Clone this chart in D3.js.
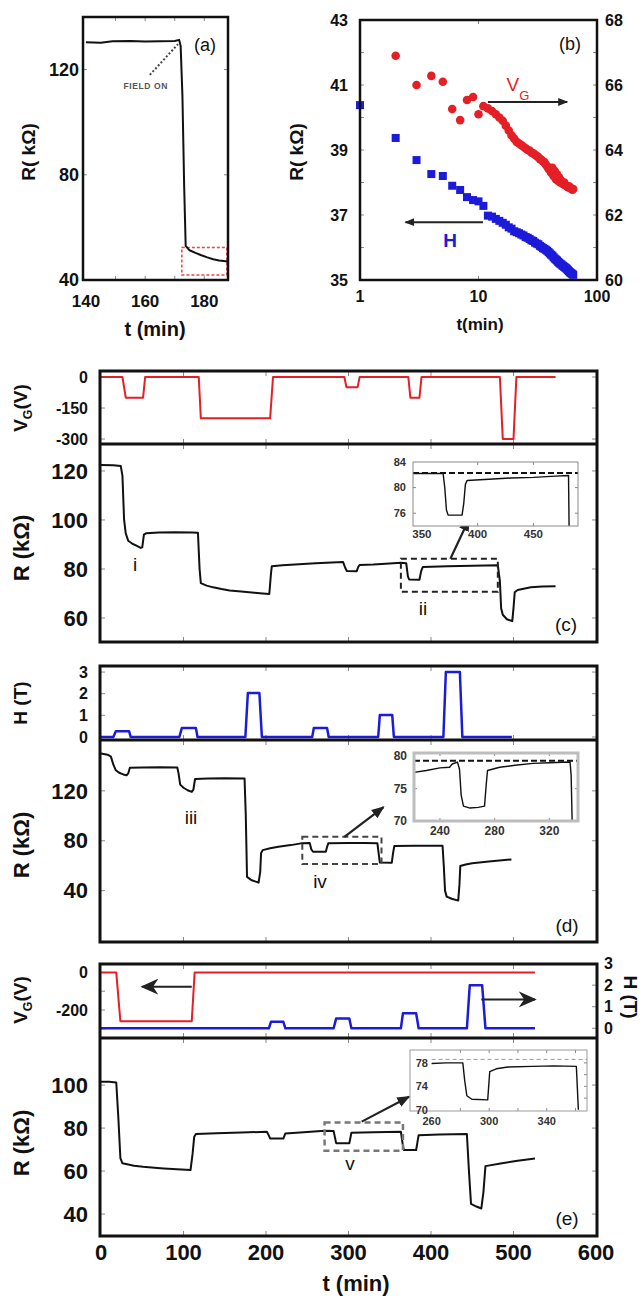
<!DOCTYPE html>
<html lang="en">
<head>
<meta charset="utf-8">
<title>R(t) under gate voltage and field</title>
<style type="text/css">
  body { margin: 0; background: #fff; }
  text { font-family: "Liberation Sans", Arial, sans-serif; }
  .tick { stroke: #8a8a8a; stroke-width: 1; }
</style>
</head>
<body>
<div id="container"></div>
<script src="https://cdnjs.cloudflare.com/ajax/libs/d3/7.8.5/d3.min.js"></script>
<script>

var width = 643, height = 1298;
var RED = "#e41f26", BLUE = "#1b1bd8";

//------ data: panel (a) ------
var aTickX = [140, 160, 180];
var aTickY = [40, 80, 120];
var aTrace = [[140,130.4],[145,130.2],[149,130.8],[155,130.9],[160,130.7],[165,130.8],[170,130.9],
  [171.5,131.3],[172,129],[172.6,110],[173.2,75],[173.7,53],[175,51.3],[177,50.3],[179,49.4],
  [181,48.6],[183,47.9],[185,47.4],[188,47]];

//------ data: panel (b) ------
var bTickX = [1, 10, 100];
var bTickL = [35, 37, 39, 41, 43];
var bTickR = [60, 62, 64, 66, 68];
// H series (left axis), blue squares
var bH = [[1,40.38],[2,39.37],[3,38.69],[4,38.26],[5,38.2],[6,37.9],[7,37.77],[8,37.55],[9,37.46],[10,37.42],
  [11,37.28],[12,36.98],[13,36.95],[14,36.88],[15,36.82],[16,36.76],[17,36.7],[18,36.62],[19,36.58],[20,36.5],
  [21,36.47],[22,36.44],[23,36.4],[24,36.37],[25,36.32],[26,36.3],[27,36.26],[28,36.22],[29,36.2],[30,36.15],
  [31,36.12],[32,36.1],[33,36.05],[34,36.02],[35,35.98],[36,35.96],[37,35.93],[38,35.9],[39,35.86],[40,35.82],
  [41,35.78],[42,35.75],[43,35.7],[44,35.66],[45,35.63],[46,35.6],[47,35.56],[48,35.53],[49,35.5],[50,35.48],
  [51,35.45],[52,35.43],[53,35.4],[54,35.38],[55,35.36],[56,35.33],[57,35.3],[58,35.27],[59,35.24],[60,35.22],
  [61,35.2],[62,35.18],[63,35.16]];
// V_G series (right axis), red circles
var bVg = [[2,66.9],[3,66.0],[4,66.28],[5,66.1],[6,65.26],[7,64.92],[8,65.54],[9,65.63],[10,65.1],
  [11,65.35],[12,65.28],[13,65.2],[14,65.1],[15,65.0],[16,64.9],[17,64.75],[18,64.6],[19,64.45],[20,64.35],
  [21,64.25],[22,64.2],[23,64.15],[24,64.1],[25,64.05],[26,64.0],[27,63.98],[28,63.92],[29,63.9],[30,63.85],
  [31,63.82],[32,63.78],[33,63.72],[34,63.7],[35,63.65],[36,63.62],[37,63.55],[38,63.5],[39,63.42],[40,63.4],
  [41,63.3],[42,63.45],[43,63.2],[44,63.35],[45,63.1],[46,63.25],[47,63.05],[48,63.15],[49,63.0],[50,63.05],
  [51,62.98],[52,62.95],[53,63.0],[54,62.92],[55,62.9],[56,62.88],[57,62.85],[58,62.88],[59,62.85],[60,62.82],
  [61,62.8],[62,62.78],[63,62.8]];

//------ data: shared time axis of (c)-(e) ------
var tTicks = [0, 100, 200, 300, 400, 500, 600];
var tInner = [100, 200, 300, 400, 500];

//------ data: panel (c) ------
var cTickV = [0, -150, -300];
var cTickR = [60, 80, 100, 120];
var cVg = [[0,0],[26,0],[30,-100],[51,-100],[53.5,0],[118.5,0],[121,-200],[205,-200],[208.5,0],[295,0],
  [297.5,-50],[311,-50],[313.5,0],[372.5,0],[375,-100],[386,-100],[388.5,0],[483.5,0],[487,-300],[500,-300],
  [503.5,0],[551,0]];
var cR = [[0,122.4],[15,122.3],[24,122],[26,118],[28,100],[30,94.5],[33,91.5],[38,90.3],[43,89.5],[48,88.6],
  [50,88.8],[52,94],[55,94.6],[70,94.9],[90,95],[110,94.9],[117.5,94.8],[119.5,80],[121,74.2],[128,73.2],
  [136,72.5],[146,71.8],[156,71.2],[170,70.8],[186,70.3],[196,70],[204,69.8],[206,78],[207,81.1],[220,81.5],
  [240,81.9],[260,82.3],[280,82.6],[293.5,82.8],[296,80.5],[298,79.2],[310,79.1],[312,81],[313.5,81.6],
  [330,81.8],[345,82.1],[363.5,82.5],[370,82.3],[372,77],[373.5,75.7],[386,75.6],[388,79],[390,80.8],
  [420,81.1],[450,81.3],[481,81.5],[483.5,75],[485,64],[487,61.3],[492,59.5],[498.5,58.7],[500,64],
  [501.5,70.5],[505,71.4],[521,72.5],[535,72.8],[551,73]];
var cInsetTickX = [350, 400, 450];
var cInsetTickY = [76, 80, 84];
var cInset = [[342,82.2],[360,82.2],[369,82.2],[370.5,80],[372,76.5],[373.5,75.7],[386,75.7],[387.5,77.5],
  [389,80.5],[390.5,81.1],[410,81.3],[430,81.5],[450,81.6],[470,81.8],[481.5,81.9],[482,74]];
var cInsetRef = 82.3;

//------ data: panel (d) ------
var dTickH = [0, 1, 2, 3];
var dTickR = [40, 80, 120];
var dH = [[0,0],[15,0],[18,0.27],[34,0.27],[36,0],[95,0],[98,0.42],[115,0.42],[117,0],[175,0],[178,2.03],
  [192,2.03],[195,0],[256,0],[258,0.42],[274,0.42],[276,0],[336,0],[338,1.02],[353,1.02],[355,0],[415,0],
  [418,3.0],[435,3.0],[438,0],[498,0]];
var dR = [[0,150],[8,149],[12,147.5],[15,141],[18,136.5],[22,134.5],[27,133.2],[31,132.5],[33,134],[35,138.5],
  [50,138.8],[70,139],[92.5,138.7],[94,134],[96,125],[100,122.5],[105,120.5],[110,119.2],[112,121],[114,129.5],
  [130,130],[150,130.2],[174,130],[175.5,100],[177,51],[182,48.5],[191,46.4],[193,55],[194,70],[196,72.5],
  [205,74],[215,75.2],[230,76.5],[242.5,77.9],[253,78.2],[255,73],[257,71.2],[272.5,71.2],[274,75],
  [275.5,77.9],[300,78.1],[320,78.2],[335,78],[336.5,70],[338,62.5],[352.5,62.4],[354,70],[355.5,75.7],
  [380,76],[414,76],[415.5,60],[417,40],[419,35.2],[425,33.5],[433,32],[434.5,45],[435.5,59.7],[442,61],
  [450,61.9],[470,63.3],[497.5,65]];
var dInsetTickX = [240, 280, 320];
var dInsetTickY = [70, 75, 80];
var dInset = [[221,77.5],[230,77.8],[240,78.2],[247,78.3],[249,78.8],[252.8,79.1],[254.3,78],[255.5,74],
  [257.2,72.3],[262,72.0],[268,72.1],[272.6,72.3],[274,76],[274.8,77.8],[283.7,78.3],[295,78.6],[308,78.9],
  [320,79.0],[335.2,79.1],[336,77],[336.7,70]];
var dInsetRef = 79.3;

//------ data: panel (e) ------
var eTickV = [0, -200];
var eTickH = [0, 1, 2, 3];
var eTickR = [40, 60, 80, 100];
var eVg = [[0,0],[18.5,0],[23.5,-260],[110,-260],[113.5,0],[526,0]];
var eH = [[0,0],[203.5,0],[206,0.3],[221,0.3],[223.5,0],[282,0],[285,0.45],[301,0.45],[303.5,0],[363.5,0],
  [366,0.7],[382,0.7],[385,0],[443.5,0],[447,2.0],[462,2.0],[466,0],[526,0]];
var eR = [[0,101.5],[10,101.5],[18.5,101.2],[21,85],[23.5,66],[26,63.6],[40,62.5],[51,62],[65,61.5],[76,61.2],
  [92,60.8],[108.5,60.5],[111,68],[113,76],[115,77.2],[140,77.6],[170,77.9],[201,78.3],[203.5,76.5],[205,75.2],
  [221,75.1],[223.5,77.5],[250,78.2],[271,78.8],[282,78.6],[285,73],[301,72.9],[303.5,77.8],[330,78.1],
  [363.5,78.3],[365.5,73],[367,69.8],[382,69.8],[385,76.7],[410,77],[443.5,77.2],[446,60],[448.5,44.7],
  [455,43.5],[461,42.6],[463.5,50],[466,62.3],[486,63.6],[505,64.8],[526,65.9]];
var eInsetTickX = [260, 300, 340];
var eInsetTickY = [70, 74, 78];
var eInset = [[260,77.9],[270,78.0],[281.7,78.0],[283,75],[284.5,72.4],[288,71.8],[299,71.7],[300.4,76.5],
  [305,77.0],[313,77.3],[330,77.4],[345,77.5],[360.6,77.4],[362,70]];
var eInsetRef = 78.6;
//-----------------------------


var svg = d3.select("#container").append("svg")
    .attr("width", width)
    .attr("height", height);

var defs = svg.append("defs");
function arrowMarker(id, size, notched) {
  defs.append("marker").attr("id", id)
    .attr("viewBox", "0 0 10 10").attr("refX", 9).attr("refY", 5)
    .attr("markerUnits", "userSpaceOnUse")
    .attr("markerWidth", size).attr("markerHeight", size)
    .attr("orient", "auto")
    .append("path")
    .attr("d", notched ? "M0,0.5L10,5L0,9.5L3,5Z" : "M0,1L10,5L0,9Z")
    .attr("fill", "#222");
}
arrowMarker("arS", 10, false);
arrowMarker("arM", 13, false);
arrowMarker("arL", 18, true);

function box(x0, y0, x1, y1, w, col) {
  svg.append("rect").attr("x", x0).attr("y", y0)
    .attr("width", x1 - x0).attr("height", y1 - y0)
    .attr("fill", "none").attr("stroke", col || "#111").attr("stroke-width", w);
}
function hline(x0, x1, y, w) {
  svg.append("line").attr("x1", x0).attr("x2", x1).attr("y1", y).attr("y2", y)
    .attr("stroke", "#111").attr("stroke-width", w);
}
// inward ticks on left and/or right edges
function yTicks(scale, vals, x0, x1, len) {
  vals.forEach(function(v) {
    var y = scale(v);
    if (x0 != null) svg.append("line").attr("class", "tick").attr("x1", x0).attr("x2", x0 + len).attr("y1", y).attr("y2", y);
    if (x1 != null) svg.append("line").attr("class", "tick").attr("x1", x1 - len).attr("x2", x1).attr("y1", y).attr("y2", y);
  });
}
// inward ticks on top and/or bottom edges
function xTicks(scale, vals, y0, y1, len) {
  vals.forEach(function(v) {
    var x = scale(v);
    if (y0 != null) svg.append("line").attr("class", "tick").attr("x1", x).attr("x2", x).attr("y1", y0).attr("y2", y0 + len);
    if (y1 != null) svg.append("line").attr("class", "tick").attr("x1", x).attr("x2", x).attr("y1", y1 - len).attr("y2", y1);
  });
}
function label(x, y, str, size, opts) {
  opts = opts || {};
  return svg.append("text").attr("x", x).attr("y", y)
    .attr("text-anchor", opts.anchor || "middle")
    .attr("dy", "0.35em")
    .attr("font-size", size)
    .attr("font-weight", opts.weight || "bold")
    .attr("font-family", opts.family || null)
    .attr("fill", opts.fill || "#111")
    .text(str);
}
function yLabels(scale, vals, x, size, anchor, fill) {
  vals.forEach(function(v) {
    label(x, scale(v), v, size, {anchor: anchor || "end", fill: fill});
  });
}
function xLabels(scale, vals, y, size, fill) {
  vals.forEach(function(v) { label(scale(v), y, v, size, {fill: fill}); });
}
// rotated axis title; parts = [[text, isSub, backUp], ...]
function vTitle(x, y, parts, size, rot) {
  var t = svg.append("text")
    .attr("transform", "translate(" + x + "," + y + ") rotate(" + (rot || -90) + ")")
    .attr("text-anchor", "middle").attr("dy", "0.35em")
    .attr("font-size", size).attr("font-weight", "bold").attr("fill", "#111");
  parts.forEach(function(p) {
    var s = t.append("tspan").text(p[0]);
    if (p[1]) s.attr("font-size", size * 0.65).attr("dy", size * 0.3);
    else if (p[2]) s.attr("dy", -size * 0.3);
  });
}
function trace(x, y, data, col, w) {
  var line = d3.line().x(function(d) { return x(d[0]); }).y(function(d) { return y(d[1]); });
  svg.append("path").datum(data).attr("d", line)
    .attr("fill", "none").attr("stroke", col).attr("stroke-width", w)
    .attr("stroke-linejoin", "round");
}
function arrow(x1, y1, x2, y2, marker, w) {
  svg.append("line").attr("x1", x1).attr("y1", y1).attr("x2", x2).attr("y2", y2)
    .attr("stroke", "#222").attr("stroke-width", w || 2)
    .attr("marker-end", "url(#" + marker + ")");
}
function dashBox(x, y, t0, t1, r0, r1, col, w, dash) {
  svg.append("rect")
    .attr("x", x(t0)).attr("y", y(r1))
    .attr("width", x(t1) - x(t0)).attr("height", y(r0) - y(r1))
    .attr("fill", "none").attr("stroke", col).attr("stroke-width", w)
    .attr("stroke-dasharray", dash || "6,4");
}
var roman = {family: "'Liberation Mono', monospace", weight: "normal"};

//==================== (a) ====================
var ax = d3.scaleLinear().domain([139, 188]).range([83, 228]);
var ay = d3.scaleLinear().domain([40, 140]).range([280, 17]);
xTicks(ax, [150, 160, 170, 180], 17, 280, 4);
yTicks(ay, [80, 120], 83, 228, 4);
dashBox(ax, ay, 172.4, 187.6, 41.9, 52.4, "#e8454a", 1.5, "3,2");
trace(ax, ay, aTrace, "#111", 2);
box(83, 17, 228, 280, 2.5);
yLabels(ay, aTickY, 79, 18);
xLabels(ax, aTickX, 301, 17);
label(155, 329, "t (min)", 20);
vTitle(28, 152, [["R( kΩ)"]], 19);
label(205, 45, "(a)", 18, {weight: "normal"});
// FIELD ON annotation
svg.append("line")
  .attr("x1", ax(161.6)).attr("y1", ay(118)).attr("x2", ax(171.1)).attr("y2", ay(129.7))
  .attr("stroke", "#444").attr("stroke-width", 2).attr("stroke-dasharray", "2,2");
label(ax(160.2), ay(113.7), "FIELD ON", 8.5, {fill: "#555"}).attr("letter-spacing", 0.6);

//==================== (b) ====================
var bx = d3.scaleLog().domain([1, 100]).range([360, 597]);
var byL = d3.scaleLinear().domain([35, 43]).range([280, 20]);
var byR = d3.scaleLinear().domain([60, 68]).range([280, 20]);
yTicks(byL, [36, 37, 38, 39, 40, 41, 42], 360, 597, 4);
xTicks(bx, [10], 20, 280, 4);
svg.append("g").selectAll("rect").data(bH).enter().append("rect")
  .attr("x", function(d) { return bx(d[0]) - 4; })
  .attr("y", function(d) { return byL(d[1]) - 4; })
  .attr("width", 8).attr("height", 8).attr("fill", BLUE);
svg.append("g").selectAll("circle").data(bVg).enter().append("circle")
  .attr("cx", function(d) { return bx(d[0]); })
  .attr("cy", function(d) { return byR(d[1]); })
  .attr("r", 4.3).attr("fill", RED);
box(360, 20, 597, 280, 2.5);
yLabels(byL, bTickL, 348, 16);
yLabels(byR, bTickR, 605, 16, "start");
xLabels(bx, bTickX, 296, 16);
label(480, 324, "t(min)", 17);
vTitle(296, 152, [["R( kΩ)"]], 19);
label(570, 44, "(b)", 18, {weight: "normal"});
arrow(bx(12), byL(40.48), bx(56), byL(40.48), "arS", 2);
arrow(bx(10.9), byL(36.78), bx(2.42), byL(36.78), "arS", 2);
var vgb = label(518, 84, "", 19, {fill: RED, weight: "normal"});
vgb.append("tspan").text("V");
vgb.append("tspan").text("G").attr("font-size", 13).attr("dy", 9);
label(450, 240, "H", 19, {fill: BLUE});

//==================== shared x ====================
var tx = d3.scaleLinear().domain([0, 600]).range([101, 596]);

//==================== (c) ====================
var cyV = d3.scaleLinear().domain([-324, 29]).range([444, 371]);
var cyR = d3.scaleLinear().domain([50.2, 131]).range([642, 444]);
yTicks(cyV, cTickV, 100, 597, 5);
yTicks(cyR, cTickR, 100, 597, 5);
xTicks(tx, tInner, 371, 444, 5);
xTicks(tx, tInner, 444, 642, 5);
trace(tx, cyV, cVg, RED, 2);
trace(tx, cyR, cR, "#111", 2);
dashBox(tx, cyR, 363.5, 481, 70.7, 84.2, "#222", 2);
arrow(tx(423.5), cyR(84.2), tx(446), cyR(100.3), "arM", 2.2);
// inset (c)
var cix = d3.scaleLinear().domain([342, 490]).range([413, 578]);
var ciy = d3.scaleLinear().domain([74, 84]).range([526, 462]);
svg.append("rect").attr("x", 413).attr("y", 462).attr("width", 165).attr("height", 64).attr("fill", "#fff");
yTicks(ciy, [76, 80], 413, 578, 3);
xTicks(cix, [400, 450], 462, 526, 3);
svg.append("line").attr("x1", cix(342)).attr("x2", cix(490)).attr("y1", ciy(cInsetRef)).attr("y2", ciy(cInsetRef))
  .attr("stroke", "#111").attr("stroke-width", 2).attr("stroke-dasharray", "6,3");
trace(cix, ciy, cInset, "#111", 1.4);
box(413, 462, 578, 526, 1, "#8a8a8a");
yLabels(ciy, cInsetTickY, 406, 11, "end", "#333");
xLabels(cix, cInsetTickX, 534, 11.5, "#333");
box(100, 371, 597, 642, 3);
hline(100, 597, 444, 3);
yLabels(cyV, cTickV, 88, 16);
yLabels(cyR, cTickR, 88, 22);
vTitle(20, 408, [["V"], ["G", true], ["(V)", false, true]], 19);
vTitle(21, 548, [["R (kΩ)"]], 22);
label(135, 564, "i", 19, roman);
label(423, 608, "ii", 19, roman);
label(566, 624, "(c)", 19, {weight: "normal"});

//==================== (d) ====================
var dyH = d3.scaleLinear().domain([-0.14, 3.28]).range([740, 666]);
var dyR = d3.scaleLinear().domain([-1.2, 160.8]).range([942, 740]);
yTicks(dyH, dTickH, 100, 597, 5);
yTicks(dyR, dTickR, 100, 597, 5);
xTicks(tx, tInner, 666, 740, 5);
xTicks(tx, tInner, 740, 942, 5);
trace(tx, dyH, dH, BLUE, 2.5);
trace(tx, dyR, dR, "#111", 2);
dashBox(tx, dyR, 244, 340, 61.3, 83.2, "#444", 2);
arrow(tx(295), dyR(83.2), tx(342.5), dyR(107), "arM", 2.2);
// inset (d)
var dix = d3.scaleLinear().domain([221, 341]).range([414, 578]);
var diy = d3.scaleLinear().domain([70, 80.5]).range([821, 753]);
svg.append("rect").attr("x", 414).attr("y", 753).attr("width", 164).attr("height", 68).attr("fill", "#fff");
yTicks(diy, [75], 414, 578, 3);
xTicks(dix, [240, 280, 320], 753, 821, 3);
svg.append("line").attr("x1", dix(221)).attr("x2", dix(341)).attr("y1", diy(dInsetRef)).attr("y2", diy(dInsetRef))
  .attr("stroke", "#111").attr("stroke-width", 2).attr("stroke-dasharray", "6,3");
trace(dix, diy, dInset, "#111", 1.4);
box(414, 753, 578, 821, 3, "#bdbdbd");
yLabels(diy, dInsetTickY, 407, 12, "end", "#333");
xLabels(dix, dInsetTickX, 831, 12, "#333");
box(100, 666, 597, 942, 3);
hline(100, 597, 740, 3);
yLabels(dyH, dTickH, 88, 16);
yLabels(dyR, dTickR, 88, 22);
vTitle(20, 703, [["H (T)"]], 19);
vTitle(21, 845, [["R (kΩ)"]], 22);
label(191, 817, "iii", 19, roman);
label(320, 881, "iv", 19, roman);
label(567, 925, "(d)", 19, {weight: "normal"});

//==================== (e) ====================
var eyV = d3.scaleLinear().domain([-349, 45]).range([1038, 964]);
var eyH = d3.scaleLinear().domain([-0.45, 2.98]).range([1038, 964]);
var eyR = d3.scaleLinear().domain([29.8, 121.9]).range([1236, 1038]);
yTicks(eyV, [0, -100, -200, -300], 100, null, 5);
yTicks(eyH, eTickH, null, 597, 5);
yTicks(eyR, eTickR, 100, 597, 5);
xTicks(tx, tInner, 964, 1038, 5);
xTicks(tx, tInner, 1038, 1236, 5);
trace(tx, eyV, eVg, RED, 2);
trace(tx, eyH, eH, BLUE, 2.5);
trace(tx, eyR, eR, "#111", 2);
arrow(tx(110), eyV(-76), tx(50), eyV(-76), "arL", 2);
arrow(tx(461), eyH(1.34), tx(526), eyH(1.34), "arL", 2);
dashBox(tx, eyR, 271, 366, 69.5, 82.6, "#777", 2.5);
arrow(tx(316), eyR(83), tx(373.5), eyR(94.6), "arM", 2.2);
// inset (e)
var eix = d3.scaleLinear().domain([245, 368]).range([410, 587]);
var eiy = d3.scaleLinear().domain([69.8, 80.2]).range([1111, 1050]);
svg.append("rect").attr("x", 410).attr("y", 1050).attr("width", 177).attr("height", 61).attr("fill", "#fff");
yTicks(eiy, [72, 74, 76, 78], null, 587, 3);
xTicks(eix, [280, 300, 320, 340, 360], 1050, 1111, 3);
svg.append("line").attr("x1", eix(260)).attr("x2", eix(368)).attr("y1", eiy(eInsetRef)).attr("y2", eiy(eInsetRef))
  .attr("stroke", "#999").attr("stroke-width", 1).attr("stroke-dasharray", "4,3");
trace(eix, eiy, eInset, "#111", 1.4);
box(410, 1050, 587, 1111, 1, "#9a9a9a");
yLabels(eiy, eInsetTickY, 428, 11, "end", "#333");
xLabels(eix, eInsetTickX, 1121, 11, "#333");
box(100, 964, 597, 1236, 3);
hline(100, 597, 1038, 3);
yLabels(eyV, eTickV, 88, 16);
yLabels(eyH, eTickH, 604, 16, "start");
yLabels(eyR, eTickR, 88, 22);
xLabels(tx, tTicks, 1252, 22);
label(356, 1283, "t (min)", 22);
vTitle(20, 1000, [["V"], ["G", true], ["(V)", false, true]], 19);
vTitle(631, 997, [["H (T)"]], 19, 90);
vTitle(21, 1143, [["R (kΩ)"]], 22);
label(350, 1163, "v", 19, roman);
label(567, 1218, "(e)", 19, {weight: "normal"});

</script>
</body>
</html>
